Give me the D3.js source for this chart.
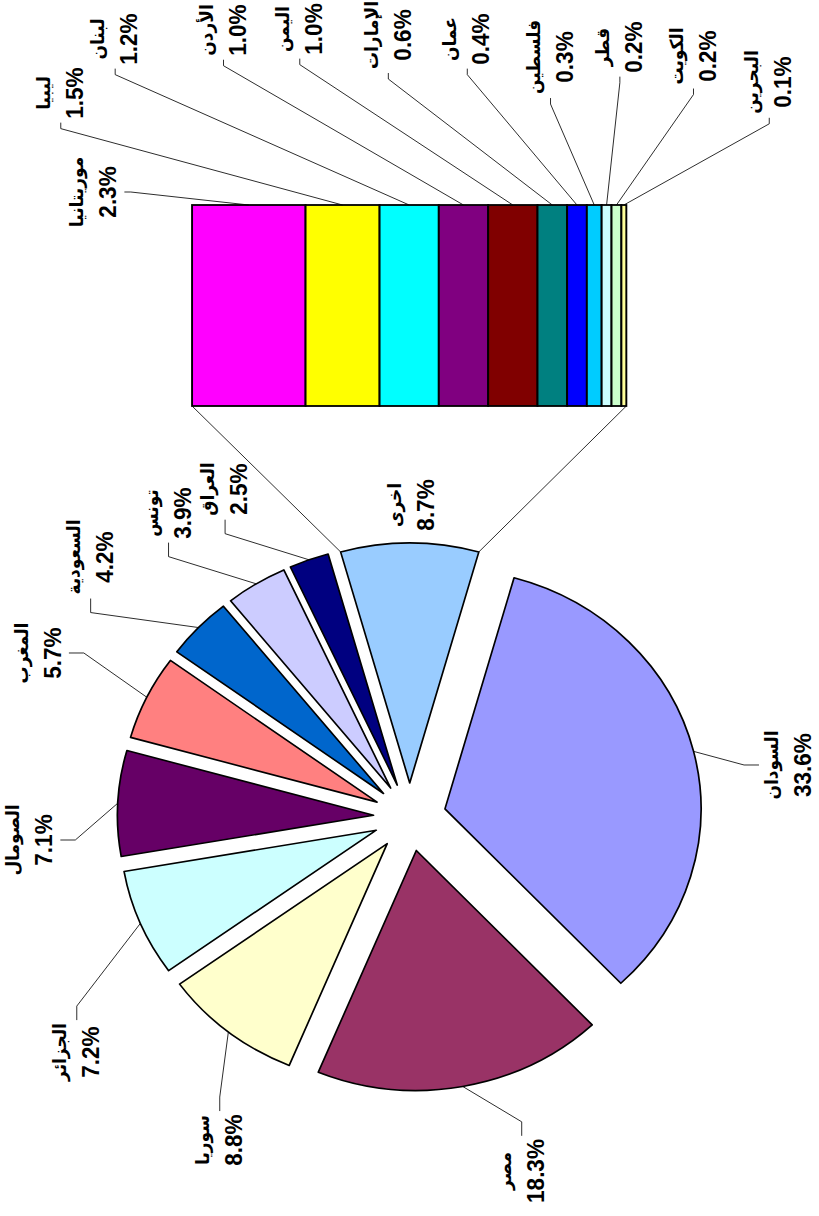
<!DOCTYPE html>
<html>
<head>
<meta charset="utf-8">
<script src="https://cdn.jsdelivr.net/npm/d3@7"></script>
<style>
body { margin: 0; background: #fff; }
svg { display: block; }
.nm { font-family: "DejaVu Sans", sans-serif; font-weight: bold; font-size: 17px; text-anchor: middle; dominant-baseline: central; }
.pc { font-family: "Liberation Sans", Arial, sans-serif; font-weight: bold; font-size: 22.5px; text-anchor: middle; dominant-baseline: central; }
</style>
</head>
<body>
<svg id="chart" width="819" height="1216"></svg>
<script>
// main pie (share of total, %)
var pieNames = ["السودان", "مصر", "سوريا", "الجزائر", "الصومال", "المغرب", "السعودية", "تونس", "العراق"];
var pieValues = [33.6, 18.3, 8.8, 7.2, 7.1, 5.7, 4.2, 3.9, 2.5];
var pieColors = ["#9999FF", "#993366", "#FFFFCC", "#CCFFFF", "#660066", "#FF8080", "#0066CC", "#CCCCFF", "#000080"];

var otherName = "اخرى";
var otherValue = 8.7;
var otherColor = "#99CCFF";

// the "other" slice broken out in the bar
var barNames = ["موريتانيا", "ليبيا", "لبنان", "الأردن", "اليمن", "الإمارات", "عمان", "فلسطين", "قطر", "الكويت", "البحرين"];
var barValues = [2.3, 1.5, 1.2, 1.0, 1.0, 0.6, 0.4, 0.3, 0.2, 0.2, 0.1];
var barColors = ["#FF00FF", "#FFFF00", "#00FFFF", "#800080", "#800000", "#008080", "#0000FF", "#00CCFF", "#CCFFFF", "#CCFFCC", "#FFFF99"];

// layout: the chart is drawn lying on its side, then turned -90deg
// and the picture is a little stretched across
var k = 1.067;
var cx = 399, cy = 384, R = 240, explode = 34;
var barX0 = 810, barX1 = 1011, barY0 = 180, barY1 = 587;

// label places (x, y of the % line) and which side the leader comes in
var pieLabelAt = [[451, 752, "t"], [45, 502, "r"], [76, 219, "r"], [164, 85, "r"], [376, 41, "b"],
                  [563, 49, "b"], [659, 98, "l"], [703, 171, "l"], [727, 224, "l"]];
var otherLabelAt = [711, 399];
var barLabelAt = [[1024, 101, "b"], [1123, 70, "l"], [1177, 121, "l"], [1186, 223, "l"], [1187, 294, "l"],
                  [1181, 377, "l"], [1177, 451, "l"], [1159, 529, "l"], [1169, 594, "l"], [1160, 663, "l"], [1134, 734, "l"]];

var svg = d3.select("#chart");
var root = svg.append("g")
    .attr("transform", "translate(0,1216) rotate(-90) scale(1," + k + ")");

var total = d3.sum(pieValues) + otherValue;
var half = otherValue / total * Math.PI;

var pieData = [{name: otherName, value: otherValue, color: otherColor}]
    .concat(pieNames.map(function(n, i) { return {name: n, value: pieValues[i], color: pieColors[i]}; }));

var pie = d3.pie().sort(null).value(function(d) { return d.value; })
    .startAngle(Math.PI / 2 - half)
    .endAngle(Math.PI / 2 - half + 2 * Math.PI);
var slices = pie(pieData);

var arc = d3.arc().innerRadius(0).outerRadius(R);

function centre(s) {
    var mid = (s.startAngle + s.endAngle) / 2;
    return [cx + explode * Math.sin(mid), cy - explode * Math.cos(mid)];
}
function onRim(s, a) {
    var c = centre(s);
    return [c[0] + R * Math.sin(a), c[1] - R * Math.cos(a)];
}

root.selectAll("path.slice")
    .data(slices)
  .enter().append("path")
    .attr("class", "slice")
    .attr("transform", function(d) { return "translate(" + centre(d) + ")"; })
    .attr("d", arc)
    .attr("fill", function(d) { return d.data.color; })
    .attr("stroke", "#000")
    .attr("stroke-width", 1.6)
    .attr("stroke-linejoin", "round");

// bar of the "other" slice
var yBar = d3.scaleLinear().domain([0, d3.sum(barValues)]).range([barY0, barY1]);
var cum = 0;
var barData = barValues.map(function(v, i) {
    var d = {name: barNames[i], value: v, color: barColors[i], y0: cum, y1: cum + v};
    cum += v;
    return d;
});

root.selectAll("rect.seg")
    .data(barData)
  .enter().append("rect")
    .attr("class", "seg")
    .attr("x", barX0)
    .attr("width", barX1 - barX0)
    .attr("y", function(d) { return yBar(d.y0); })
    .attr("height", function(d) { return yBar(d.y1) - yBar(d.y0); })
    .attr("fill", function(d) { return d.color; })
    .attr("stroke", "#000")
    .attr("stroke-width", 1.8);

// lines joining the slice to the bar
var os = slices[0];
var c1 = onRim(os, os.startAngle), c2 = onRim(os, os.endAngle);
root.append("line").attr("x1", c1[0]).attr("y1", c1[1]).attr("x2", barX0).attr("y2", yBar(0))
    .attr("stroke", "#000").attr("stroke-width", 0.8);
root.append("line").attr("x1", c2[0]).attr("y1", c2[1]).attr("x2", barX0).attr("y2", yBar(cum))
    .attr("stroke", "#000").attr("stroke-width", 0.8);

function label(x, y, name, value, side, tick, sx, sy) {
    var g = root.append("g");
    g.append("text").attr("class", "nm").attr("x", x).attr("y", y - 29).text(name);
    g.append("text").attr("class", "pc").attr("x", x).attr("y", y).text(value.toFixed(1) + "%");
    if (!side) return;
    var b = g.node().getBBox();
    var ax, ay, ex, ey;
    if (side == "l") { ax = b.x - 4; ay = b.y + b.height / 2; ex = ax - tick; ey = ay; }
    if (side == "r") { ax = b.x + b.width + 3; ay = b.y + b.height / 2; ex = ax + tick; ey = ay; }
    if (side == "t") { ax = b.x + b.width / 2; ay = b.y - 2; ex = ax; ey = ay - tick; }
    if (side == "b") { ax = b.x + b.width / 2; ay = b.y + b.height + 3; ex = ax; ey = ay + tick; }
    root.append("path")
        .attr("d", "M" + sx + "," + sy + "L" + ex + "," + ey + "L" + ax + "," + ay)
        .attr("fill", "none")
        .attr("stroke", "#000")
        .attr("stroke-width", 0.8);
}

slices.forEach(function(s, i) {
    if (i == 0) {
        label(otherLabelAt[0], otherLabelAt[1], s.data.name, s.data.value);
        return;
    }
    var p = onRim(s, (s.startAngle + s.endAngle) / 2);
    var at = pieLabelAt[i - 1];
    label(at[0], at[1], s.data.name, s.data.value, at[2], 14, p[0], p[1]);
});

barData.forEach(function(d, i) {
    var at = barLabelAt[i];
    var sy = yBar((d.y0 + d.y1) / 2);
    label(at[0], at[1], d.name, d.value, at[2], 6, barX1, sy);
});
</script>
</body>
</html>
